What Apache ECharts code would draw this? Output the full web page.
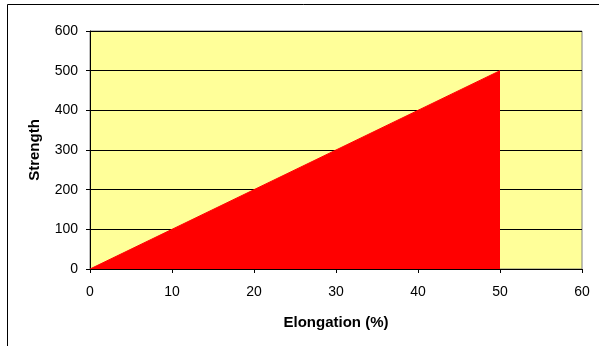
<!DOCTYPE html>
<html>
<head>
<meta charset="utf-8">
<script src="https://cdn.jsdelivr.net/npm/echarts@6/dist/echarts.min.js"></script>
<style>
  html, body { margin: 0; padding: 0; background: #fff; }
  #main { width: 599px; height: 346px; }
</style>
</head>
<body>
<div id="main"></div>
<script>
// data
const elongation = [0, 50]
const strength = [0, 500]
const xTicks = [0, 60, 10]   // min, max, step
const yTicks = [0, 600, 100]

const font = 'Liberation Sans, Arial, sans-serif'
const chart = echarts.init(document.getElementById('main'), null, { renderer: 'canvas' })

const points = elongation.map((x, i) => [x, strength[i]])

chart.setOption({
  animation: false,
  backgroundColor: '#fff',
  textStyle: { fontFamily: font },
  // outer chart frame
  graphic: [{
    type: 'rect',
    shape: { x: 7.5, y: 4.5, width: 620, height: 360 },
    style: { fill: null, stroke: '#000', lineWidth: 1 },
    z: 100,
  }],
  grid: {
    left: 90,
    right: 17,
    top: 31,
    bottom: 77,
    show: true,
    backgroundColor: '#FFFF99',
    borderColor: '#808080',
    borderWidth: 1,
  },
  xAxis: {
    type: 'value',
    min: xTicks[0],
    max: xTicks[1],
    interval: xTicks[2],
    name: 'Elongation (%)',
    nameLocation: 'middle',
    nameGap: 46,
    nameTextStyle: { fontFamily: font, fontSize: 15, fontWeight: 'bold', color: '#000' },
    axisLine: { show: true, lineStyle: { color: '#000', width: 1 } },
    axisTick: { show: true, inside: false, length: 4, lineStyle: { color: '#000' } },
    axisLabel: { fontFamily: font, fontSize: 14, color: '#000', margin: 16 },
    splitLine: { show: false },
  },
  yAxis: {
    type: 'value',
    min: yTicks[0],
    max: yTicks[1],
    interval: yTicks[2],
    name: 'Strength',
    nameLocation: 'middle',
    nameGap: 48,
    nameRotate: 90,
    nameTextStyle: { fontFamily: font, fontSize: 15, fontWeight: 'bold', color: '#000' },
    axisLine: { show: true, lineStyle: { color: '#000', width: 1 } },
    axisTick: { show: true, inside: false, length: 4, lineStyle: { color: '#000' } },
    axisLabel: { fontFamily: font, fontSize: 14, color: '#000', margin: 12 },
    splitLine: { show: true, lineStyle: { color: '#000', width: 1 } },
  },
  series: [{
    type: 'line',
    data: points,
    showSymbol: false,
    lineStyle: { color: '#FF0000', width: 1 },
    areaStyle: { color: '#FF0000', opacity: 1 },
    z: 3,
  }],
})
</script>
</body>
</html>
